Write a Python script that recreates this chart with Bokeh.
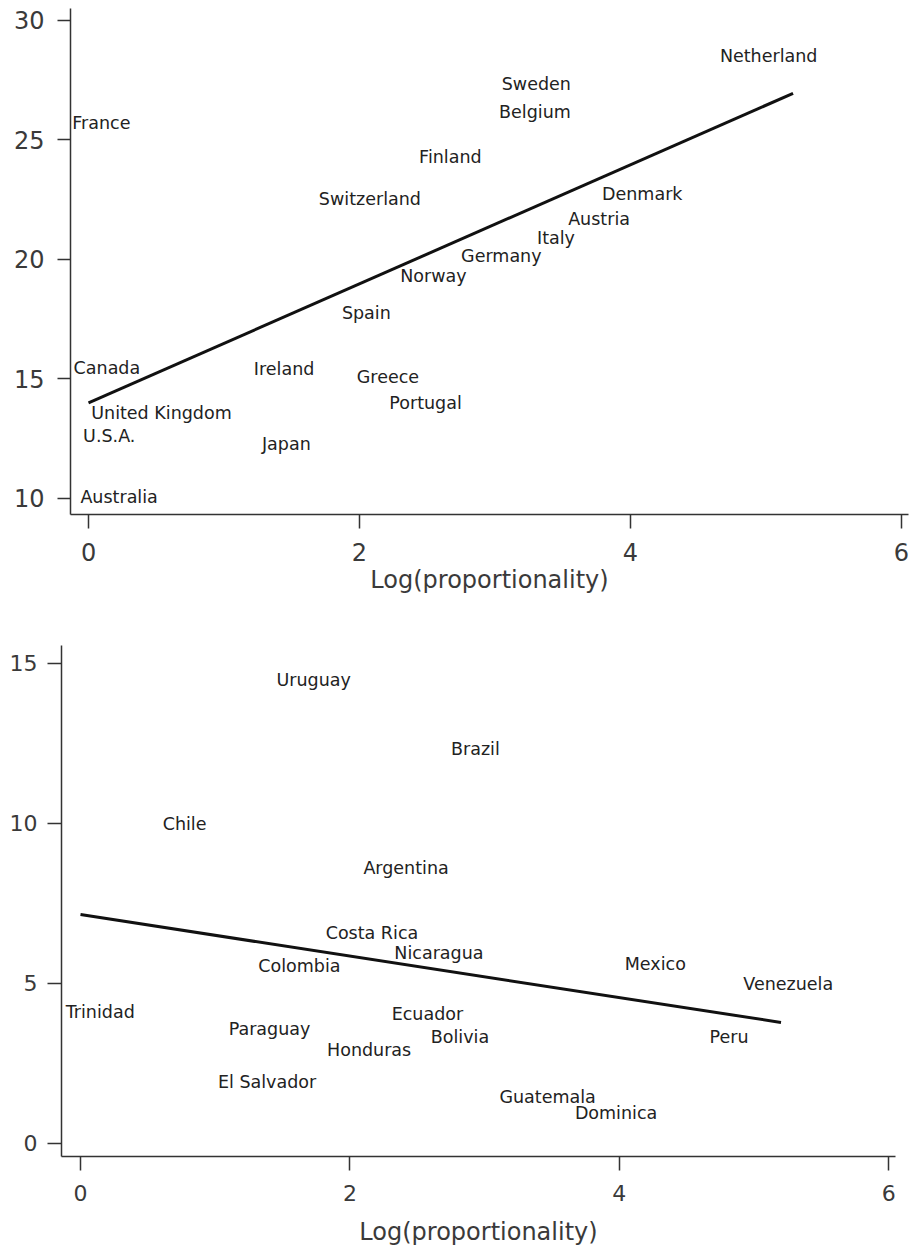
from bokeh.plotting import figure
from bokeh.models import ColumnDataSource, Range1d, FixedTicker
from bokeh.embed import file_html
from bokeh.resources import INLINE
from bokeh.core.properties import value

# ---- OECD panel ----
oecd_names = ["France", "Canada", "United Kingdom", "U.S.A.", "Australia",
              "Ireland", "Japan", "Greece", "Portugal", "Spain",
              "Switzerland", "Finland", "Sweden", "Belgium", "Norway",
              "Germany", "Italy", "Austria", "Denmark", "Netherland"]
oecd_x = [-0.12, -0.11, 0.02, -0.04, -0.06,
          1.22, 1.28, 1.98, 2.22, 1.87,
          1.70, 2.44, 3.05, 3.03, 2.30,
          2.75, 3.31, 3.54, 3.79, 4.66]
oecd_y = [25.7, 15.46, 13.57, 12.6, 10.08,
          15.42, 12.27, 15.08, 13.99, 17.77,
          22.52, 24.29, 27.35, 26.18, 19.29,
          20.13, 20.88, 21.68, 22.73, 28.53]
oecd_fit_x = [0.0, 5.2]
oecd_fit_y = [14.0, 26.95]
oecd_yticks = [10, 15, 20, 25, 30]

# ---- Latin America panel ----
latam_names = ["Uruguay", "Brazil", "Chile", "Argentina", "Costa Rica",
               "Nicaragua", "Colombia", "Trinidad", "Paraguay", "Ecuador",
               "Bolivia", "Honduras", "El Salvador", "Mexico", "Venezuela",
               "Peru", "Guatemala", "Dominica"]
latam_x = [1.455, 2.75, 0.61, 2.10, 1.82,
           2.33, 1.32, -0.11, 1.10, 2.31,
           2.60, 1.83, 1.02, 4.04, 4.92,
           4.67, 3.11, 3.67]
latam_y = [14.47, 12.34, 9.97, 8.62, 6.59,
           5.94, 5.53, 4.12, 3.56, 4.03,
           3.31, 2.91, 1.91, 5.62, 4.97,
           3.31, 1.44, 0.94]
latam_fit_x = [0.0, 5.2]
latam_fit_y = [7.15, 3.78]
latam_yticks = [0, 5, 10, 15]

xticks = [0, 2, 4, 6]
x_title = "Log(proportionality)"

FONT = "DejaVu Sans"


def panel(names, xs, ys, fx, fy, yticks, xr, yr, height, bl, br, bt, bb,
          tick_size, ytick_out, ystandoff, label_standoff):
    p = figure(width=912, height=height, output_backend="svg",
               toolbar_location=None, x_range=Range1d(*xr), y_range=Range1d(*yr),
               min_border_left=bl, min_border_right=br,
               min_border_top=bt, min_border_bottom=bb)
    p.background_fill_color = "white"
    p.border_fill_color = "white"
    p.outline_line_color = None
    p.grid.visible = False

    p.xaxis.ticker = FixedTicker(ticks=xticks)
    p.yaxis.ticker = FixedTicker(ticks=yticks)
    for ax in (p.xaxis[0], p.yaxis[0]):
        ax.axis_line_color = "#333333"
        ax.axis_line_width = 1.5
        ax.major_tick_line_color = "#333333"
        ax.major_tick_line_width = 1.5
        ax.minor_tick_line_color = None
        ax.major_tick_in = 0
        ax.major_label_text_font = FONT
        ax.major_label_text_font_size = tick_size
        ax.major_label_text_color = "#3a3a3a"
    p.yaxis.major_tick_out = ytick_out
    p.yaxis.major_label_standoff = ystandoff
    p.xaxis.major_tick_out = 14
    p.xaxis.major_label_standoff = 14
    p.xaxis.axis_label = x_title
    p.xaxis.axis_label_text_font = FONT
    p.xaxis.axis_label_text_font_size = "24px"
    p.xaxis.axis_label_text_font_style = "normal"
    p.xaxis.axis_label_text_color = "#3a3a3a"
    p.xaxis.axis_label_standoff = label_standoff

    p.line(fx, fy, line_color="#111111", line_width=3)

    src = ColumnDataSource(dict(x=xs, y=ys, name=names))
    p.text(x="x", y="y", text="name", source=src,
           text_font=value(FONT), text_font_size=value("17.5px"),
           text_align="left", text_baseline="middle", text_color="#222222")
    return p


top = panel(oecd_names, oecd_x, oecd_y, oecd_fit_x, oecd_fit_y, oecd_yticks,
            (-0.133, 6.052), (9.33, 30.50), 608, 70, 4, 8, 94,
            "24px", 13, 13, 2)
bottom = panel(latam_names, latam_x, latam_y, latam_fit_x, latam_fit_y, latam_yticks,
               (-0.141, 6.05), (-0.41, 15.56), 643, 61, 17, 37, 95,
               "22px", 14, 10, 14)

open("out.html", "w").write(file_html([top, bottom], INLINE))
